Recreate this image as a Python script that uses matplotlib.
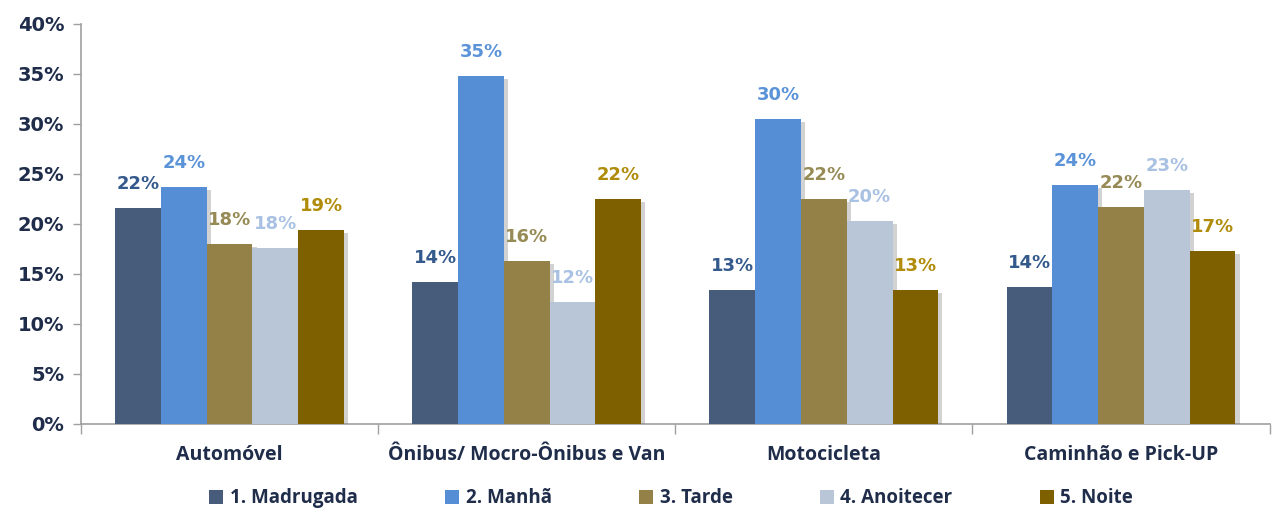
import numpy as np
import matplotlib
matplotlib.use("Agg")
import matplotlib.pyplot as plt
import matplotlib.patheffects as pe
from matplotlib.patches import Patch
from matplotlib.ticker import FuncFormatter, FixedLocator

categories = ["Automóvel", "Ônibus/ Mocro-Ônibus e Van", "Motocicleta", "Caminhão e Pick-UP"]
series = ["1. Madrugada", "2. Manhã", "3. Tarde", "4. Anoitecer", "5. Noite"]
madrugada = [21.6, 14.2, 13.4, 13.7]
manha = [23.7, 34.8, 30.5, 23.9]
tarde = [18.0, 16.3, 22.5, 21.7]
anoitecer = [17.6, 12.2, 20.3, 23.4]
noite = [19.4, 22.5, 13.4, 17.3]
values = [madrugada, manha, tarde, anoitecer, noite]

bar_colors = ["#475B7A", "#558ED5", "#948147", "#B9C6D8", "#7F6000"]
label_colors = ["#34598C", "#5B93D8", "#968A55", "#A9C1E2", "#B08C0A"]
text_dark = "#1F2D4A"

fig = plt.figure(figsize=(12.76, 5.09), dpi=100)
ax = fig.add_axes([0.0635, 0.167, 0.9315, 0.786])

x = np.arange(len(categories))
width = 0.154
shadow = [pe.SimplePatchShadow(offset=(3, -2), shadow_rgbFace="#808080", alpha=0.35), pe.Normal()]

for i, (vals, col) in enumerate(zip(values, bar_colors)):
    pos = x + (i - 2) * width
    bars = ax.bar(pos, vals, width, color=col, zorder=3)
    for b in bars:
        b.set_path_effects(shadow)
    for p, v in zip(pos, vals):
        ax.text(p, v + 1.5, f"{v:.0f}%", ha="center", va="bottom", family="DejaVu Sans",
                fontsize=13, fontweight="bold", color=label_colors[i], zorder=4)

ax.set_xlim(-0.5, len(categories) - 0.5)
ax.set_ylim(0, 40)
ax.set_yticks(np.arange(0, 41, 5))
ax.yaxis.set_major_formatter(FuncFormatter(lambda v, _: f"{v:.0f}%"))
ax.tick_params(axis="y", labelsize=14, colors="#A0A0A0", labelcolor=text_dark, length=6, width=1, pad=6)
for lab in ax.get_yticklabels():
    lab.set_fontweight("bold")
    lab.set_family("DejaVu Sans")

ax.set_xticks(x)
ax.set_xticklabels(categories, fontsize=14, fontweight="bold", color=text_dark, family="Open Sans")
ax.tick_params(axis="x", which="major", length=0, pad=15)
ax.xaxis.set_minor_locator(FixedLocator(np.arange(-0.5, len(categories), 1.0)))
ax.tick_params(axis="x", which="minor", length=7, color="#A0A0A0", width=1)

for s in ["top", "right"]:
    ax.spines[s].set_visible(False)
for s in ["left", "bottom"]:
    ax.spines[s].set_color("#A0A0A0")
    ax.spines[s].set_linewidth(1.2)

proxies = [Patch(facecolor=c, edgecolor="none") for c in bar_colors]
leg = fig.legend(proxies, series, loc="lower center", bbox_to_anchor=(0.526, -0.032), ncol=5,
                 frameon=False, handlelength=0.75, handleheight=0.75, handletextpad=0.35,
                 columnspacing=4.65, prop={"family": "Open Sans", "weight": "bold", "size": 13.5})
for t in leg.get_texts():
    t.set_color(text_dark)

fig.savefig("out.png", dpi=100)
